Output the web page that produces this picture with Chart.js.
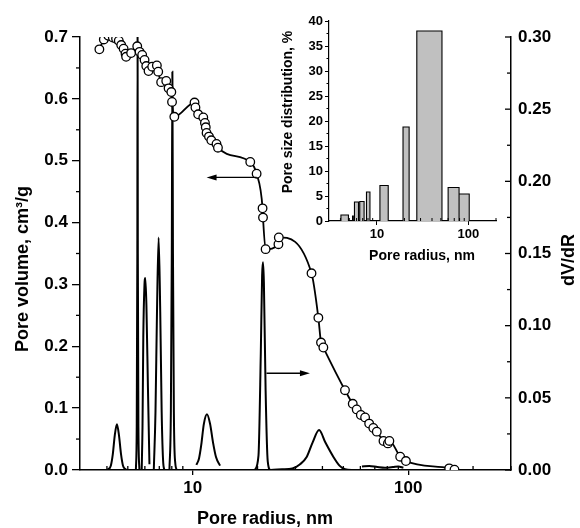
<!DOCTYPE html>
<html>
<head>
<meta charset="utf-8">
<script src="https://cdn.jsdelivr.net/npm/chart.js@4.4.0/dist/chart.umd.min.js"></script>
<style>
html, body { margin: 0; padding: 0; background: #fff; }
#wrap { position: relative; width: 580px; height: 528px; }
#main { position: absolute; left: 0; top: 0; }
#inset { position: absolute; left: 265px; top: 0; }
</style>
</head>
<body>
<div id="wrap">
<canvas id="main" width="580" height="528"></canvas>
<canvas id="inset" width="240" height="270"></canvas>
</div>
<script>
// pore volume (left axis), open circles
var volX = [3.69, 3.87, 4.06, 4.26, 4.41, 4.54, 4.66, 4.78, 4.88, 4.91, 5.18, 5.53, 5.67, 5.83, 5.98, 6.09, 6.24, 6.49, 6.82, 6.92,
            7.14, 7.54, 7.73, 7.96, 8.02, 8.22, 10.2, 10.3, 10.6, 11.2, 11.4, 11.5, 11.6, 11.9, 12.2, 12.9, 13.1, 18.5, 19.8, 21.1,
            21.2, 21.8, 25.0, 25.1, 35.6, 38.3, 39.4, 40.4, 50.9, 55.3, 57.7, 60.3, 63.1, 65.9, 68.9, 71.5, 76.8, 80.5, 81.8, 91.8,
            97.6, 155, 164];
var volY = [0.680, 0.696, 0.702, 0.699, 0.697, 0.694, 0.687, 0.681, 0.673, 0.668, 0.674, 0.685, 0.676, 0.671, 0.663, 0.653, 0.645, 0.652, 0.654, 0.644,
            0.627, 0.629, 0.617, 0.611, 0.595, 0.571, 0.594, 0.586, 0.575, 0.570, 0.561, 0.554, 0.545, 0.539, 0.533, 0.527, 0.521, 0.498, 0.479, 0.423,
            0.408, 0.357, 0.365, 0.376, 0.318, 0.246, 0.206, 0.198, 0.129, 0.107, 0.098, 0.089, 0.085, 0.075, 0.068, 0.062, 0.047, 0.043, 0.047, 0.0215,
            0.0145, 0.0027, 0.0005];

// dV/dR (right axis), null breaks the line into pieces
var dvdrX = [3.7, 3.9, 4.05, 4.17, 4.26, 4.35, 4.45, 4.55, 4.65, 4.75, 4.88, 4.95, 4.95,
             5.45, 5.5, 5.535, 5.55, 5.565, 5.6, 5.66, 5.66,
             5.8, 5.85, 5.9, 5.97, 6.03, 6.1, 6.2, 6.3, 6.3,
             6.6, 6.72, 6.83, 6.95, 7.07, 7.18, 7.3, 7.4, 7.4,
             7.8, 7.92, 8.0, 8.05, 8.1, 8.18, 8.3, 8.45, 8.45,
             10.4, 10.7, 10.95, 11.27, 11.65, 12.04, 12.43, 12.83, 13.4, 13.4,
             19.4, 20.2, 20.7, 21.0, 21.2, 21.4, 21.8, 22.3, 23, 26, 29, 31.5, 33.8, 36, 38.6, 41.3, 45, 48, 51, 56, 56,
             61, 66, 72, 78, 85, 90, 95];
var dvdrY = [0, 0, 0.0005, 0.003, 0.011, 0.024, 0.0317, 0.024, 0.011, 0.003, 0.0005, 0, null,
             0, 0.03, 0.15, 0.30, 0.15, 0.03, 0, null,
             0, 0.03, 0.092, 0.127, 0.133, 0.114, 0.057, 0.004, null,
             0, 0.04, 0.11, 0.161, 0.11, 0.04, 0.005, 0, null,
             0, 0.04, 0.15, 0.276, 0.15, 0.04, 0.005, 0, null,
             0.0035, 0.008, 0.017, 0.032, 0.0386, 0.032, 0.019, 0.009, 0.003, null,
             0, 0.01, 0.08, 0.135, 0.144, 0.13, 0.055, 0.006, 0, 0.0005, 0.001, 0.004, 0.009, 0.019, 0.0277, 0.019, 0.009, 0.003, 0.0005, 0, null,
             0.0025, 0.0028, 0.002, 0.0015, 0.002, 0.0025, 0.0015];

// tick values
var xMajor = [10, 100];
var xMinor = [4, 5, 6, 7, 8, 9, 20, 30, 40, 50, 60, 70, 80, 90, 200, 300];
var volTicks = [0, 0.1, 0.2, 0.3, 0.4, 0.5, 0.6, 0.7];
var volMinor = [0.05, 0.15, 0.25, 0.35, 0.45, 0.55, 0.65];
var dvdrTicks = [0, 0.05, 0.10, 0.15, 0.20, 0.25, 0.30];
var dvdrMinor = [0.025, 0.075, 0.125, 0.175, 0.225, 0.275];

// arrows pointing to the axis of each curve
var arrowFrom = [19.8, 22.0];
var arrowTo = [11.6, 35.0];
var arrowLevel = [0.473, 0.067];
var arrowAxis = ['y', 'y2'];

// inset histogram
var binLeft = [4.05, 5.42, 5.69, 6.5, 7.7, 10.8, 19.3, 27.3, 60, 79];
var binRight = [4.89, 5.52, 6.30, 7.25, 8.4, 13.3, 22.5, 51.4, 79, 102];
var binPct = [1.2, 1.0, 3.8, 3.9, 5.8, 7.1, 18.8, 38.0, 6.7, 5.4];
var insetXMajor = [10, 100];
var insetXMinor = [4, 5, 6, 7, 8, 9, 20, 30, 40, 50, 60, 70, 80, 90, 200];
var pctTicks = [0, 5, 10, 15, 20, 25, 30, 35, 40];
var pctMinor = [2.5, 7.5, 12.5, 17.5, 22.5, 27.5, 32.5, 37.5];

var FONT = "'Liberation Sans', Arial, sans-serif";
Chart.defaults.font.family = FONT;
Chart.defaults.font.weight = 'bold';
Chart.defaults.color = '#000';

function seg(c, x1, y1, x2, y2) {
  c.beginPath(); c.moveTo(x1, y1); c.lineTo(x2, y2); c.stroke();
}

function vText(c, text, x, y, size) {
  c.save();
  c.translate(x, y);
  c.rotate(-Math.PI / 2);
  c.font = 'bold ' + size + 'px ' + FONT;
  c.textAlign = 'center';
  c.textBaseline = 'middle';
  c.fillText(text, 0, 0);
  c.restore();
}

var mainDecor = {
  id: 'mainDecor',
  afterDraw: function (chart) {
    var c = chart.ctx, a = chart.chartArea;
    var xs = chart.scales.x, ys = chart.scales.y, y2 = chart.scales.y2;
    c.save();
    c.strokeStyle = '#000';
    c.fillStyle = '#000';
    c.lineWidth = 1.3;
    volMinor.forEach(function (v) { var p = ys.getPixelForValue(v); seg(c, a.left - 4, p, a.left, p); });
    dvdrTicks.forEach(function (v) { var p = y2.getPixelForValue(v); seg(c, a.right - 6, p, a.right, p); });
    dvdrMinor.forEach(function (v) { var p = y2.getPixelForValue(v); seg(c, a.right - 4, p, a.right, p); });
    xMinor.forEach(function (v) { var p = xs.getPixelForValue(v); seg(c, p, a.bottom, p, a.bottom - 4); });

    // arrows
    c.lineWidth = 1.4;
    for (var i = 0; i < arrowFrom.length; i++) {
      var sc = chart.scales[arrowAxis[i]];
      var yy = sc.getPixelForValue(arrowLevel[i]);
      var x1 = xs.getPixelForValue(arrowFrom[i]), x2 = xs.getPixelForValue(arrowTo[i]);
      var dir = x2 > x1 ? 1 : -1;
      seg(c, x1, yy, x2 - dir * 6, yy);
      c.beginPath();
      c.moveTo(x2, yy);
      c.lineTo(x2 - dir * 10, yy - 3);
      c.lineTo(x2 - dir * 10, yy + 3);
      c.closePath();
      c.fill();
    }

    // axis titles
    c.font = 'bold 18px ' + FONT;
    c.textAlign = 'center';
    c.textBaseline = 'middle';
    c.fillText('Pore radius, nm', 265, 519);
    vText(c, 'Pore volume, cm\u00b3/g', 23, 269, 18);
    vText(c, 'dV/dR', 569, 260, 18);
    c.restore();
  }
};

var mainCtx = document.getElementById('main').getContext('2d');
var mainChart = new Chart(mainCtx, {
  type: 'scatter',
  data: {
    datasets: [{
      label: 'Pore volume',
      data: volX.map(function (x, i) { return { x: x, y: volY[i] }; }),
      yAxisID: 'y',
      showLine: true,
      borderColor: '#000',
      borderWidth: 1.8,
      pointRadius: 4.3,
      pointBackgroundColor: '#fff',
      pointBorderColor: '#000',
      pointBorderWidth: 1.3,
      cubicInterpolationMode: 'monotone',
      order: 0
    }, {
      label: 'dV/dR',
      data: dvdrX.map(function (x, i) { return { x: x, y: dvdrY[i] }; }),
      yAxisID: 'y2',
      showLine: true,
      borderColor: '#000',
      borderWidth: 2,
      pointRadius: 0,
      cubicInterpolationMode: 'monotone',
      spanGaps: false,
      order: 1
    }]
  },
  options: {
    responsive: false,
    animation: false,
    layout: { padding: { top: 37, left: 0, right: 0, bottom: 0 } },
    plugins: { legend: { display: false }, tooltip: { enabled: false } },
    scales: {
      x: {
        type: 'logarithmic', min: 3, max: 300, position: 'bottom',
        afterBuildTicks: function (s) { s.ticks = xMajor.map(function (v) { return { value: v }; }); },
        afterFit: function (s) { s.height = 58; },
        ticks: { font: { size: 17, weight: 'bold' }, color: '#000', padding: 3, autoSkip: false, maxRotation: 0,
                 callback: function (v) { return String(v); } },
        grid: { drawOnChartArea: false, drawTicks: true, tickLength: 5, color: '#000', lineWidth: 1.3 },
        border: { color: '#000', width: 1.5 }
      },
      y: {
        position: 'left', min: 0, max: 0.7,
        afterBuildTicks: function (s) { s.ticks = volTicks.map(function (v) { return { value: v }; }); },
        afterFit: function (s) { s.width = 80; },
        ticks: { font: { size: 17, weight: 'bold' }, color: '#000', padding: 4,
                 callback: function (v) { return v.toFixed(1); } },
        grid: { drawOnChartArea: false, drawTicks: true, tickLength: 8, color: '#000', lineWidth: 1.3 },
        border: { color: '#000', width: 1.5 }
      },
      y2: {
        position: 'right', min: 0, max: 0.30,
        afterBuildTicks: function (s) { s.ticks = dvdrTicks.map(function (v) { return { value: v }; }); },
        afterFit: function (s) { s.width = 69; },
        ticks: { font: { size: 17, weight: 'bold' }, color: '#000', padding: 7,
                 callback: function (v) { return v.toFixed(2); } },
        grid: { drawOnChartArea: false, drawTicks: false },
        border: { color: '#000', width: 1.5 }
      }
    }
  },
  plugins: [mainDecor]
});

// inset
var binOutline = [];
for (var i = 0; i < binPct.length; i++) {
  binOutline.push({ x: binLeft[i], y: 0 }, { x: binLeft[i], y: binPct[i] },
                  { x: binRight[i], y: binPct[i] }, { x: binRight[i], y: 0 });
}

var insetDecor = {
  id: 'insetDecor',
  afterDraw: function (chart) {
    var c = chart.ctx, a = chart.chartArea;
    var xs = chart.scales.x, ys = chart.scales.y;
    c.save();
    c.strokeStyle = '#000';
    c.fillStyle = '#000';
    c.lineWidth = 1;
    pctMinor.forEach(function (v) { var p = ys.getPixelForValue(v); seg(c, a.left - 2.5, p, a.left, p); });
    insetXMinor.forEach(function (v) { var p = xs.getPixelForValue(v); seg(c, p, a.bottom, p, a.bottom - 3); });
    c.font = 'bold 14px ' + FONT;
    c.textAlign = 'center';
    c.textBaseline = 'middle';
    c.fillText('Pore radius, nm', 157, 256);
    vText(c, 'Pore size distribution, %', 23, 112, 14);
    c.restore();
  }
};

var insetCtx = document.getElementById('inset').getContext('2d');
var insetChart = new Chart(insetCtx, {
  type: 'scatter',
  data: {
    datasets: [{
      label: 'Pore size distribution',
      data: binOutline,
      showLine: true,
      borderColor: '#000',
      borderWidth: 1.1,
      backgroundColor: '#c0c0c0',
      fill: 'origin',
      pointRadius: 0,
      tension: 0
    }]
  },
  options: {
    responsive: false,
    animation: false,
    layout: { padding: { top: 21, right: 9, left: 0, bottom: 0 } },
    plugins: { legend: { display: false }, tooltip: { enabled: false } },
    scales: {
      x: {
        type: 'logarithmic', min: 3, max: 200,
        afterBuildTicks: function (s) { s.ticks = insetXMajor.map(function (v) { return { value: v }; }); },
        afterFit: function (s) { s.height = 49; },
        ticks: { font: { size: 13, weight: 'bold' }, color: '#000', padding: 2, autoSkip: false, maxRotation: 0,
                 callback: function (v) { return String(v); } },
        grid: { drawOnChartArea: false, drawTicks: true, tickLength: 4, color: '#000', lineWidth: 1 },
        border: { color: '#000', width: 1.2 }
      },
      y: {
        min: 0, max: 40,
        afterBuildTicks: function (s) { s.ticks = pctTicks.map(function (v) { return { value: v }; }); },
        afterFit: function (s) { s.width = 64; },
        ticks: { font: { size: 13, weight: 'bold' }, color: '#000', padding: 2 },
        grid: { drawOnChartArea: false, drawTicks: true, tickLength: 4, color: '#000', lineWidth: 1 },
        border: { color: '#000', width: 1.2 }
      }
    }
  },
  plugins: [insetDecor]
});
</script>
</body>
</html>
